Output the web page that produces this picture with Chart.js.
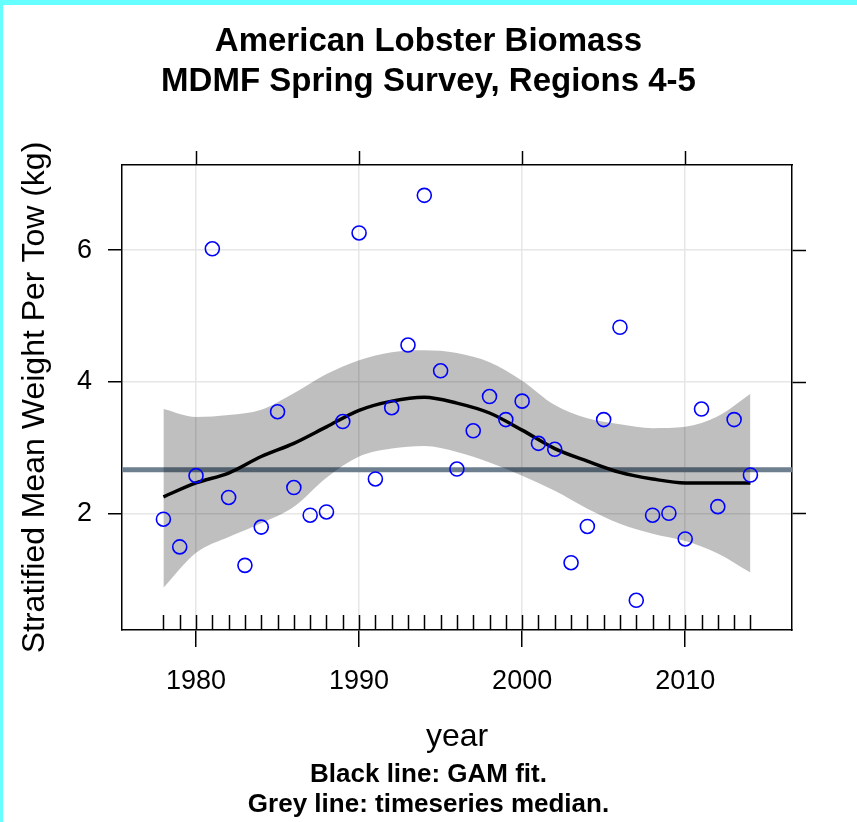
<!DOCTYPE html>
<html>
<head>
<meta charset="utf-8">
<script src="https://cdn.jsdelivr.net/npm/chart.js@4/dist/chart.umd.min.js"></script>
<style>
  html, body { margin: 0; padding: 0; background: #fff; }
  #wrap { position: relative; width: 857px; height: 822px; }
  #bandeHaut { position: absolute; left: 0; top: 0; width: 857px; height: 5px; background: #66ffff; }
  #bandeGauche { position: absolute; left: 0; top: 0; width: 3px; height: 822px; background: #66ffff; }
</style>
</head>
<body>
<div id="wrap">
  <canvas id="myChartBiomasse" width="857" height="822"></canvas>
  <div id="bandeHaut"></div>
  <div id="bandeGauche"></div>
</div>
<script>
//? Data.

const annees = [
  1978, 1979, 1980, 1981, 1982, 1983, 1984, 1985, 1986, 1987, 1988, 1989,
  1990, 1991, 1992, 1993, 1994, 1995, 1996, 1997, 1998, 1999, 2000, 2001,
  2002, 2003, 2004, 2005, 2006, 2007, 2008, 2009, 2010, 2011, 2012, 2013, 2014,
];
const poidsMoyen = [
  1.92, 1.5, 2.58, 6.02, 2.25, 1.22, 1.8, 3.55, 2.4, 1.98, 2.03, 3.4,
  6.26, 2.53, 3.61, 4.56, 6.83, 4.17, 2.68, 3.26, 3.78, 3.43, 3.71, 3.07,
  2.98, 1.26, 1.81, 3.43, 4.83, 0.69, 1.98, 2.01, 1.62, 3.59, 2.11, 3.43, 2.59,
];

// courbe GAM + intervalle de confiance (tous les 2 ans)
const anneesGam = [
  1978, 1980, 1982, 1984, 1986, 1988, 1990, 1992, 1994, 1996,
  1998, 2000, 2002, 2004, 2006, 2008, 2010, 2012, 2014,
];
const gamFit = [
  2.26, 2.47, 2.62, 2.87, 3.07, 3.32, 3.57, 3.71, 3.77, 3.68,
  3.53, 3.27, 2.99, 2.8, 2.63, 2.53, 2.47, 2.47, 2.47,
];
const gamHaut = [
  3.59, 3.47, 3.5, 3.58, 3.83, 4.12, 4.33, 4.45, 4.48, 4.44,
  4.3, 4.02, 3.65, 3.45, 3.36, 3.3, 3.32, 3.48, 3.82,
];
const gamBas = [
  0.88, 1.41, 1.65, 1.86, 2.11, 2.55, 2.87, 2.99, 3.03, 2.94,
  2.78, 2.58, 2.35, 2.08, 1.85, 1.7, 1.59, 1.4, 1.11,
];

const medianeSerie = 2.67;

const bornesX = [1975.46, 2016.55];
const bornesY = [0.24, 7.29];
const ticksX = [1980, 1990, 2000, 2010];
const ticksY = [2, 4, 6];

const titreGraphique = ["American Lobster Biomass", "MDMF Spring Survey, Regions 4-5"];
const legendeBas = ["Black line: GAM fit.", "Grey line: timeseries median."];
const titreAxeX = "year";
const titreAxeY = "Stratified Mean Weight Per Tow (kg)";

//? -------------------------------------------------

const policeTexte = "'Liberation Sans', Arial, sans-serif";

const toPoints = (xs, ys) => xs.map((x, i) => ({ x: x, y: ys[i] }));

// petits traits vers l'interieur sur l'axe du bas (une par annee)
const pluginTraitsAnnees = {
  id: "traitsAnnees",
  afterDraw(chart) {
    const ctx = chart.ctx;
    const sx = chart.scales.x;
    const bas = chart.chartArea.bottom;
    ctx.save();
    ctx.strokeStyle = "#000";
    ctx.lineWidth = 1.5;
    ctx.beginPath();
    annees.forEach((a) => {
      const px = Math.round(sx.getPixelForValue(a)) + 0.5;
      ctx.moveTo(px, bas - 15);
      ctx.lineTo(px, bas);
    });
    ctx.stroke();
    ctx.restore();
  },
};

const fixerTicks = (valeurs) => (scale) => {
  scale.ticks = valeurs.map((v) => ({ value: v }));
};

const constructionDuGraphique = () => {
  try {
    const ctx = document.getElementById("myChartBiomasse").getContext("2d");

    const data = {
      datasets: [
        {
          label: "points",
          data: toPoints(annees, poidsMoyen),
          showLine: false,
          pointStyle: "circle",
          pointRadius: 7,
          pointBorderWidth: 1.6,
          pointBorderColor: "#0000ff",
          pointBackgroundColor: "rgba(0,0,0,0)",
          order: 0,
        },
        {
          label: "gam",
          data: toPoints(anneesGam, gamFit),
          showLine: true,
          borderColor: "#000",
          borderWidth: 3.5,
          pointRadius: 0,
          cubicInterpolationMode: "monotone",
          order: 1,
        },
        {
          label: "ic haut",
          data: toPoints(anneesGam, gamHaut),
          showLine: true,
          borderWidth: 0,
          borderColor: "rgba(0,0,0,0)",
          backgroundColor: "rgba(0,0,0,0.25)",
          pointRadius: 0,
          cubicInterpolationMode: "monotone",
          fill: "+1",
          order: 2,
        },
        {
          label: "ic bas",
          data: toPoints(anneesGam, gamBas),
          showLine: true,
          borderWidth: 0,
          borderColor: "rgba(0,0,0,0)",
          pointRadius: 0,
          cubicInterpolationMode: "monotone",
          fill: false,
          order: 3,
        },
        {
          label: "mediane",
          data: bornesX.map((x) => ({ x: x, y: medianeSerie })),
          showLine: true,
          borderColor: "#6e7f90",
          borderWidth: 5,
          pointRadius: 0,
          order: 4,
        },
      ],
    };

    const options = {
      responsive: false,
      animation: false,
      devicePixelRatio: 1,
      layout: { padding: 0 },
      plugins: {
        legend: { display: false },
        tooltip: { enabled: false },
        title: {
          display: true,
          text: titreGraphique,
          color: "#000",
          font: { family: policeTexte, size: 33, weight: "bold", lineHeight: "40px" },
          padding: { top: 22, bottom: 0 },
        },
        subtitle: {
          display: true,
          position: "bottom",
          text: legendeBas,
          color: "#000",
          font: { family: policeTexte, size: 26, weight: "bold", lineHeight: "30px" },
          padding: { top: 0, bottom: 2 },
        },
      },
      scales: {
        x: {
          type: "linear",
          position: "bottom",
          min: bornesX[0],
          max: bornesX[1],
          afterBuildTicks: fixerTicks(ticksX),
          afterFit: (s) => { s.height = 130; },
          border: { display: true, color: "#000", width: 1.5 },
          grid: {
            color: "#e6e6e6",
            lineWidth: 1.5,
            tickColor: "#000",
            tickWidth: 1.5,
            tickLength: 17,
          },
          ticks: {
            color: "#000",
            padding: 18,
            maxRotation: 0,
            font: { family: policeTexte, size: 27 },
            callback: (v) => String(v),
          },
          title: {
            display: true,
            text: titreAxeX,
            color: "#000",
            font: { family: policeTexte, size: 32, lineHeight: 1.2 },
            padding: { top: 0, bottom: 4 },
          },
        },
        x2: {
          type: "linear",
          position: "top",
          min: bornesX[0],
          max: bornesX[1],
          afterBuildTicks: fixerTicks(ticksX),
          afterFit: (s) => { s.height = 63; },
          border: { display: true, color: "#000", width: 1.5 },
          grid: {
            drawOnChartArea: false,
            tickColor: "#000",
            tickWidth: 1.5,
            tickLength: 14,
          },
          ticks: { display: false },
        },
        y: {
          type: "linear",
          position: "left",
          min: bornesY[0],
          max: bornesY[1],
          afterBuildTicks: fixerTicks(ticksY),
          afterFit: (s) => { s.width = 122; },
          border: { display: true, color: "#000", width: 1.5 },
          grid: {
            color: "#e6e6e6",
            lineWidth: 1.5,
            tickColor: "#000",
            tickWidth: 1.5,
            tickLength: 14,
          },
          ticks: {
            color: "#000",
            padding: 16,
            font: { family: policeTexte, size: 27 },
            callback: (v) => String(v),
          },
          title: {
            display: true,
            text: titreAxeY,
            color: "#000",
            font: { family: policeTexte, size: 32, lineHeight: 1.2 },
            padding: { top: 16, bottom: 0 },
          },
        },
        y2: {
          type: "linear",
          position: "right",
          min: bornesY[0],
          max: bornesY[1],
          afterBuildTicks: fixerTicks(ticksY),
          afterFit: (s) => { s.width = 65; },
          border: { display: true, color: "#000", width: 1.5 },
          grid: {
            drawOnChartArea: false,
            tickColor: "#000",
            tickWidth: 1.5,
            tickLength: 14,
          },
          ticks: { display: false },
        },
      },
    };

    new Chart(ctx, { type: "scatter", data, options, plugins: [pluginTraitsAnnees] });
  } catch (error) {
    console.log("🔴 ERREUR | Construction graphique :", error);
  }
};

constructionDuGraphique();
</script>
</body>
</html>
